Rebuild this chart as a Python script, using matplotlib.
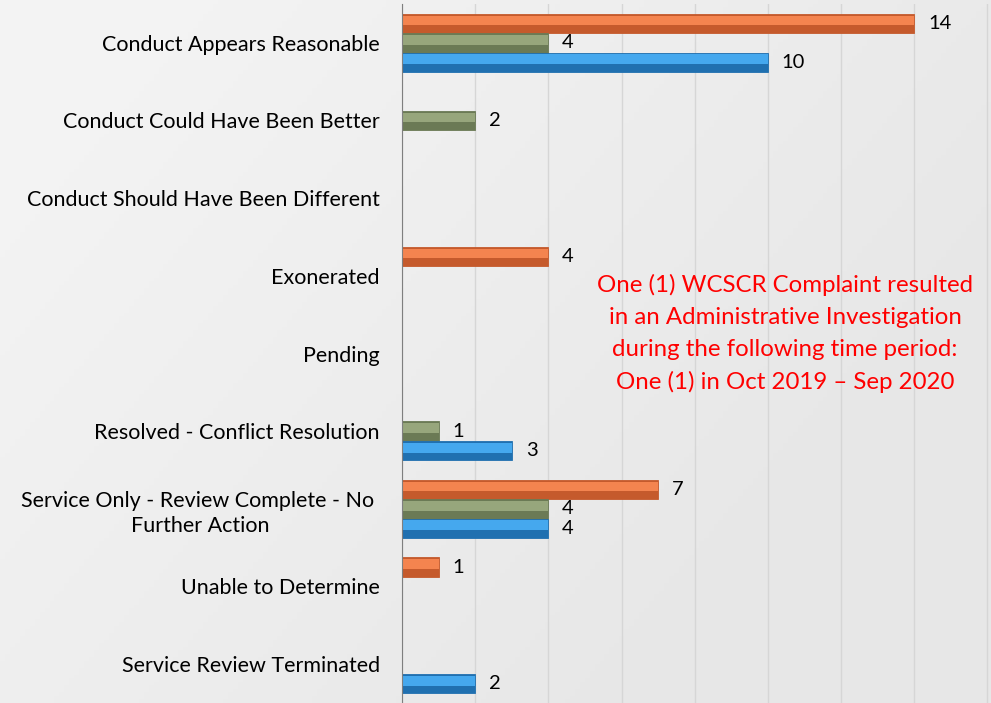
import numpy as np
import matplotlib.pyplot as plt

categories = ["Conduct Appears Reasonable", "Conduct Could Have Been Better",
              "Conduct Should Have Been Different", "Exonerated", "Pending",
              "Resolved - Conflict Resolution",
              "Service Only - Review Complete - No \nFurther Action",
              "Unable to Determine", "Service Review Terminated"]
orange_vals = [14, 0, 0, 4, 0, 0, 7, 1, 0]
green_vals = [4, 2, 0, 0, 0, 1, 4, 0, 0]
blue_vals = [10, 0, 0, 0, 0, 3, 4, 0, 2]

note = ("One (1) WCSCR Complaint resulted\nin an Administrative Investigation\n"
        "during the following time period:\nOne (1) in Oct 2019 \u2013 Sep 2020")

plt.rcParams['font.family'] = ['Lato', 'DejaVu Sans']

fig = plt.figure(figsize=(9.91, 7.03), dpi=100)

# background gradient
bg = fig.add_axes([0, 0, 1, 1], zorder=-10)
gx, gy = np.meshgrid(np.linspace(0, 1, 200), np.linspace(0, 1, 200))
g = 0.905 + 0.045 * np.clip(1.2 - gx - 0.6 * gy, 0, 1)
bg.imshow(g, cmap='gray', vmin=0, vmax=1, aspect='auto', extent=[0, 1, 0, 1])
bg.axis('off')

W, H = 991, 703
ax = fig.add_axes([402 / W, 0 / H, (W - 402) / W, 699 / H])
ax.set_facecolor('none')

y = np.arange(len(categories))
h = 0.25
series = [(orange_vals, -h, '#c55a2c', '#f4844f'),
          (green_vals, 0, '#6b7a55', '#97a67c'),
          (blue_vals, h, '#2070b0', '#45a8ee')]

for vals, off, dark, light in series:
    vals = np.array(vals)
    ax.barh(y + off, vals, height=h, color=dark, edgecolor=dark, linewidth=0.6, zorder=3)
    ax.barh(y + off - h * 0.15, vals, height=h * 0.5, color=light, linewidth=0, zorder=4)
    for yi, v in zip(y + off, vals):
        if v > 0:
            ax.annotate(str(v), (v, yi), xytext=(10, 0), textcoords='offset points',
                        va='center', ha='left', fontsize=14.5, color='black')

ax.set_xlim(0, 16.1)
ax.set_ylim(len(categories) - 0.5, -0.5)
ax.set_yticks(y)
ax.set_yticklabels(categories, fontsize=15.5, multialignment='center', linespacing=1.35)
ax.tick_params(axis='y', length=0, pad=16)
ax.tick_params(axis='x', length=0, labelbottom=False)
ax.set_xticks(np.arange(0, 17, 2))
ax.grid(axis='x', color='#d6d6d6', linewidth=1, zorder=0)
for s in ['top', 'right', 'bottom']:
    ax.spines[s].set_visible(False)
ax.spines['left'].set_color('#7f7f7f')
ax.spines['left'].set_zorder(5)

fig.text(785 / W, 1 - 333.5 / H, note, color='#ff0000', fontsize=17.3,
         ha='center', va='center', linespacing=1.63)

fig.savefig('out.png', dpi=100)
